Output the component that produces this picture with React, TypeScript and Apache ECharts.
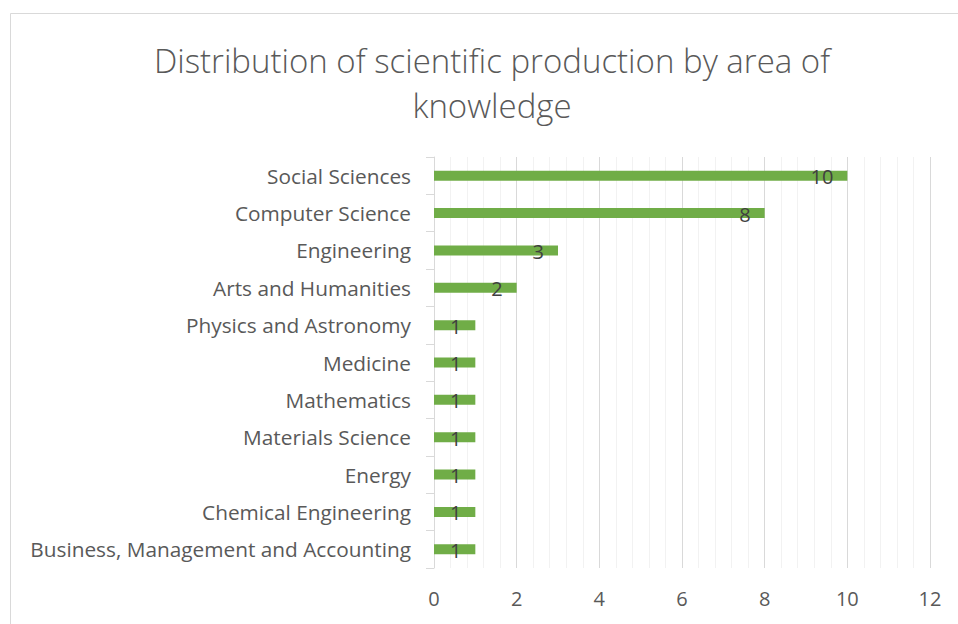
import React, { useEffect, useRef } from "react";
import * as echarts from "echarts";

const categories = [
  "Social Sciences",
  "Computer Science",
  "Engineering",
  "Arts and Humanities",
  "Physics and Astronomy",
  "Medicine",
  "Mathematics",
  "Materials Science",
  "Energy",
  "Chemical Engineering",
  "Business, Management and Accounting",
];
const values = [10, 8, 3, 2, 1, 1, 1, 1, 1, 1, 1];
const titleText = "Distribution of scientific production by area of\nknowledge";

export default function App() {
  const ref = useRef<HTMLDivElement>(null);
  useEffect(() => {
    if (!ref.current) return;
    const chart = echarts.init(ref.current, undefined, { renderer: "svg" });
    const font = "'Open Sans', 'Noto Sans', sans-serif";
    chart.setOption({
      animation: false,
      backgroundColor: "#ffffff",
      title: {
        text: titleText,
        left: 487,
        top: 33,
        textAlign: "center",
        textStyle: {
          fontFamily: font,
          fontSize: 33,
          fontWeight: 300,
          color: "#595959",
          lineHeight: 45,
        },
      },
      graphic: [
        {
          type: "rect",
          shape: { x: 10.5, y: 13.5, width: 980, height: 640 },
          style: { fill: "none", stroke: "#d9d9d9", lineWidth: 1 },
          silent: true,
        },
      ],
      grid: { left: 434, right: 28, top: 157, bottom: 56, containLabel: false },
      xAxis: {
        type: "value",
        min: 0,
        max: 12,
        interval: 2,
        axisLine: { show: false },
        axisTick: { show: false },
        axisLabel: {
          fontFamily: font,
          fontSize: 20,
          color: "#595959",
          margin: 20,
        },
        splitLine: { show: true, lineStyle: { color: "#d9d9d9", width: 1 } },
        minorTick: { show: false, splitNumber: 5 },
        minorSplitLine: { show: true, lineStyle: { color: "#f2f2f2", width: 1 } },
      },
      yAxis: {
        type: "category",
        data: categories,
        inverse: true,
        axisLine: { show: true, lineStyle: { color: "#d9d9d9", width: 1 } },
        axisTick: { show: true, length: 8, lineStyle: { color: "#d9d9d9" } },
        axisLabel: {
          fontFamily: font,
          fontSize: 20.8,
          color: "#595959",
          margin: 23,
        },
      },
      series: [
        {
          type: "bar",
          data: values,
          barWidth: 10,
          itemStyle: { color: "#70AD47" },
          label: {
            show: true,
            position: "insideRight",
            distance: 14,
            fontFamily: font,
            fontSize: 20,
            color: "#404040",
            offset: [0, 1],
          },
        },
      ],
    });
    return () => chart.dispose();
  }, []);
  return (
    <div
      ref={ref}
      style={{ position: "fixed", left: 0, top: 0, width: 958, height: 624 }}
    />
  );
}
